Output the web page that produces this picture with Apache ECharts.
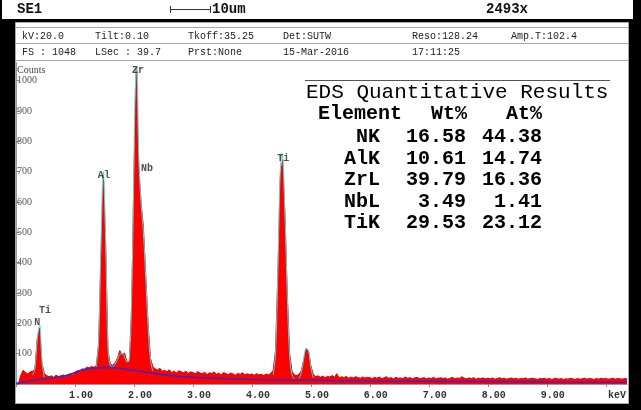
<!DOCTYPE html>
<html>
<head>
<meta charset="utf-8">
<script src="https://cdn.jsdelivr.net/npm/echarts/dist/echarts.min.js"></script>
<style>
  html, body { margin: 0; padding: 0; background: #000; }
  #eds { width: 641px; height: 410px; }
</style>
</head>
<body>
<div id="eds"></div>
<script>
// spectrum, one value every 0.04 keV starting at 0 keV
var stepKeV = 0.04;
var counts = [
  0, 0, 28, 45, 38, 33, 40, 42, 48, 150, 185, 70, 35, 28, 24, 27, 22, 29, 25, 27, 30, 26, 31, 33, 30,
  38, 44, 41, 50, 48, 56, 53, 58, 55, 60, 130, 420, 690, 460, 110, 65, 62, 70, 85, 110, 96, 102, 75, 70, 250,
  700, 1040, 720, 600, 520, 360, 200, 85, 58, 50, 46, 52, 42, 45, 40, 47, 38, 42, 36, 44, 40, 37, 42, 35, 40,
  38, 33, 41, 36, 34, 39, 31, 37, 35, 40, 32, 36, 30, 38, 34, 31, 36, 33, 29, 35, 32, 37, 30, 34, 31,
  33, 29, 34, 30, 32, 28, 33, 30, 35, 45, 110, 360, 680, 740, 560, 300, 100, 42, 30, 28, 32, 45, 82, 115, 108,
  60, 32, 24, 27, 22, 26, 21, 25, 23, 28, 22, 34, 20, 24, 21, 25, 19, 23, 20, 24, 21, 19, 23, 20, 22,
  21, 18, 22, 19, 23, 18, 20, 24, 19, 21, 17, 22, 19, 20, 18, 23, 19, 21, 17, 20, 22, 18, 19, 21, 17,
  20, 18, 22, 17, 19, 21, 18, 20, 16, 19, 22, 17, 20, 18, 24, 19, 17, 20, 18, 21, 16, 19, 18, 20, 17,
  19, 17, 20, 16, 18, 21, 17, 19, 16, 18, 20, 17, 19, 16, 18, 17, 20, 16, 18, 19, 17, 15, 18, 17, 19,
  16, 18, 15, 17, 19, 16, 18, 15, 17, 16, 19, 17, 15, 18, 16, 17, 19, 16, 18, 17, 15, 18, 16, 19, 17,
  18, 16, 17, 19, 16, 18, 17, 16, 18, 17
];

// background fit (blue)
var bgKeV    = [0.0, 0.1, 0.4, 0.7, 0.85, 1.0, 1.15, 1.4, 1.6, 1.8, 2.0, 2.3, 2.6, 3.0, 3.5, 4.0, 5.0, 6.0, 7.0, 8.0, 9.0, 10.36];
var bgCounts = [2, 6, 15, 22, 28, 38, 48, 53, 54, 50, 45, 36, 28, 22, 18, 15, 12, 10, 9, 8, 7, 6];

// peak fit (cyan), null separates the segments
var fitKeV = [
  0.28, 0.32, 0.36, 0.40, 0.44, 0.48, null,
  1.36, 1.40, 1.44, 1.48, 1.52, 1.56, 1.60, 1.64, 1.68, 1.72, 1.76, 1.80, 1.84, 1.88, 1.92, 1.96, 2.00, 2.02, 2.05, 2.08, 2.12, 2.16, 2.20, 2.24, 2.28, 2.32, null,
  4.36, 4.40, 4.44, 4.48, 4.51, 4.56, 4.60, 4.64, 4.68, 4.72, null,
  4.80, 4.84, 4.88, 4.92, 4.96, 5.00, 5.04
];
var fitCounts = [
  30, 50, 145, 195, 75, 22, null,
  55, 140, 450, 700, 470, 120, 60, 58, 65, 80, 98, 100, 90, 72, 80, 280, 720, 960, 1045, 760, 600, 500, 350, 190, 80, 42, null,
  30, 100, 370, 700, 760, 560, 290, 95, 30, 16, null,
  18, 40, 85, 118, 110, 55, 20
];

// peak labels
var peakNames  = ['Zr', 'Nb', 'Al', 'Ti', 'N', 'Ti'];
var peakKeV    = [2.07, 2.22, 1.49, 4.53, 0.36, 0.49];
var peakCounts = [1035, 712, 686, 745, 202, 244];

// quantitative results
var elements = ['NK', 'AlK', 'ZrL', 'NbL', 'TiK'];
var wtPct    = ['16.58', '10.61', '39.79', '3.49', '29.53'];
var atPct    = ['44.38', '14.74', '16.36', '1.41', '23.12'];

// acquisition header
var infoRow1 = ['kV:20.0', 'Tilt:0.10', 'Tkoff:35.25', 'Det:SUTW', 'Reso:128.24', 'Amp.T:102.4'];
var infoRow2 = ['FS : 1048', 'LSec : 39.7', 'Prst:None', '15-Mar-2016', '17:11:25'];
var infoX = [22, 95, 188, 283, 412, 511];

var spectrum = counts.map(function (c, i) { return [+(i * stepKeV).toFixed(2), c]; });
var background = bgKeV.map(function (k, i) { return [k, bgCounts[i]]; });

// split fit into segments
var fitSegs = [], cur = [];
fitKeV.forEach(function (k, i) {
  if (k === null) { fitSegs.push(cur); cur = []; }
  else cur.push([k, fitCounts[i]]);
});
if (cur.length) fitSegs.push(cur);

var mono = '"Liberation Mono", "DejaVu Sans Mono", monospace';
var serif = '"Liberation Serif", "DejaVu Serif", serif';

function txt(x, y, s, font, align, color) {
  return {
    type: 'text', z: 1,
    style: {
      x: x, y: y, text: s, font: font, fill: color || '#111',
      textAlign: align || 'left', textVerticalAlign: 'middle',
      align: align || 'left', verticalAlign: 'middle'
    }
  };
}

var graphics = [
  { type: 'rect', z: 0, shape: { x: 2, y: 0, width: 631, height: 19 }, style: { fill: '#fff' } },
  { type: 'rect', z: 0, shape: { x: 15.5, y: 22.5, width: 613, height: 381 }, style: { fill: '#fff', stroke: '#a8a8a8', lineWidth: 1 } },
  { type: 'line', z: 1, shape: { x1: 15.5, y1: 27.5, x2: 628.5, y2: 27.5 }, style: { stroke: '#a8a8a8', lineWidth: 1 } },
  { type: 'line', z: 1, shape: { x1: 15.5, y1: 43.5, x2: 628.5, y2: 43.5 }, style: { stroke: '#a8a8a8', lineWidth: 1 } },
  { type: 'line', z: 1, shape: { x1: 15.5, y1: 60.5, x2: 628.5, y2: 60.5 }, style: { stroke: '#a8a8a8', lineWidth: 1 } },
  // scale bar
  { type: 'line', z: 1, shape: { x1: 170, y1: 9.5, x2: 211, y2: 9.5 }, style: { stroke: '#333', lineWidth: 1 } },
  { type: 'line', z: 1, shape: { x1: 170.5, y1: 6, x2: 170.5, y2: 13 }, style: { stroke: '#333', lineWidth: 1 } },
  { type: 'line', z: 1, shape: { x1: 210.5, y1: 6, x2: 210.5, y2: 13 }, style: { stroke: '#333', lineWidth: 1 } },
  txt(17, 9, 'SE1', 'bold 14px ' + mono),
  txt(212, 9, '10um', 'bold 14px ' + mono),
  txt(486, 9, '2493x', 'bold 14px ' + mono),
  // table
  { type: 'line', z: 1, shape: { x1: 305, y1: 80.5, x2: 610, y2: 80.5 }, style: { stroke: '#555', lineWidth: 1 } },
  txt(306, 92, 'EDS Quantitative Results', '21px ' + mono, 'left', '#000'),
  txt(318, 114, 'Element', 'bold 20px ' + mono, 'left', '#000'),
  txt(467, 114, 'Wt%', 'bold 20px ' + mono, 'right', '#000'),
  txt(542, 114, 'At%', 'bold 20px ' + mono, 'right', '#000'),
  txt(17, 70, 'Counts', '10px ' + serif, 'left', '#444'),
  txt(626, 395, 'keV', 'bold 10px ' + mono, 'right', '#333')
];
infoRow1.forEach(function (s, i) { graphics.push(txt(infoX[i], 36, s, '10px ' + mono, 'left', '#222')); });
infoRow2.forEach(function (s, i) { graphics.push(txt(infoX[i], 52, s, '10px ' + mono, 'left', '#222')); });
elements.forEach(function (el, i) {
  var y = 137 + i * 21.6;
  graphics.push(txt(380, y, el, 'bold 20px ' + mono, 'right', '#000'));
  graphics.push(txt(466, y, wtPct[i], 'bold 20px ' + mono, 'right', '#000'));
  graphics.push(txt(542, y, atPct[i], 'bold 20px ' + mono, 'right', '#000'));
});

var series = [
  {
    name: 'spectrum', type: 'line', data: spectrum, showSymbol: false, z: 2,
    lineStyle: { color: '#e00000', width: 1 },
    areaStyle: { color: '#ff0000', opacity: 1 }
  },
  {
    name: 'background', type: 'line', data: background, showSymbol: false, smooth: true, z: 4,
    lineStyle: { color: '#2b2bd6', width: 1.5 }
  }
];
fitSegs.forEach(function (seg) {
  series.push({
    type: 'line', data: seg, showSymbol: false, smooth: 0.4, z: 3,
    lineStyle: { color: '#5ad6d6', width: 1 }
  });
});
series.push({
  type: 'scatter', z: 5, symbolSize: 0,
  data: peakKeV.map(function (k, i) { return { value: [k, peakCounts[i]], name: peakNames[i] }; }),
  label: {
    show: true, position: 'inside', formatter: '{b}',
    fontFamily: mono, fontSize: 10, fontWeight: 'bold', color: '#222'
  }
});

var myChart = echarts.init(document.getElementById('eds'));
var option = {
  backgroundColor: '#000',
  animation: false,
  graphic: graphics,
  grid: { left: 16, right: 14, top: 62.5, bottom: 26 },
  xAxis: {
    type: 'value', min: 0, max: 10.36, interval: 1,
    axisLine: { lineStyle: { color: '#999', width: 1 } },
    axisTick: { show: true, length: 3, lineStyle: { color: '#888' } },
    splitLine: { show: false },
    axisLabel: {
      margin: 6, padding: [0, 0, 0, 12],
      fontFamily: mono, fontSize: 10, fontWeight: 'bold', color: '#333',
      showMaxLabel: false,
      formatter: function (v) { return (v <= 0 || v >= 10) ? '' : v.toFixed(2); }
    }
  },
  yAxis: {
    type: 'value', min: 0, max: 1060, interval: 100,
    axisLine: { show: true, lineStyle: { color: '#999', width: 1 } },
    axisTick: { show: true, inside: true, length: 4, lineStyle: { color: '#888' } },
    splitLine: { show: false },
    axisLabel: {
      inside: true, margin: 1, padding: [7, 0, 0, 0],
      fontFamily: serif, fontSize: 10, color: '#555',
      showMaxLabel: false,
      formatter: function (v) { return (v <= 0 || v > 1000) ? '' : v; }
    }
  },
  series: series
};

if (option && typeof option === "object") {
    myChart.setOption(option, true);
}
</script>
</body>
</html>
